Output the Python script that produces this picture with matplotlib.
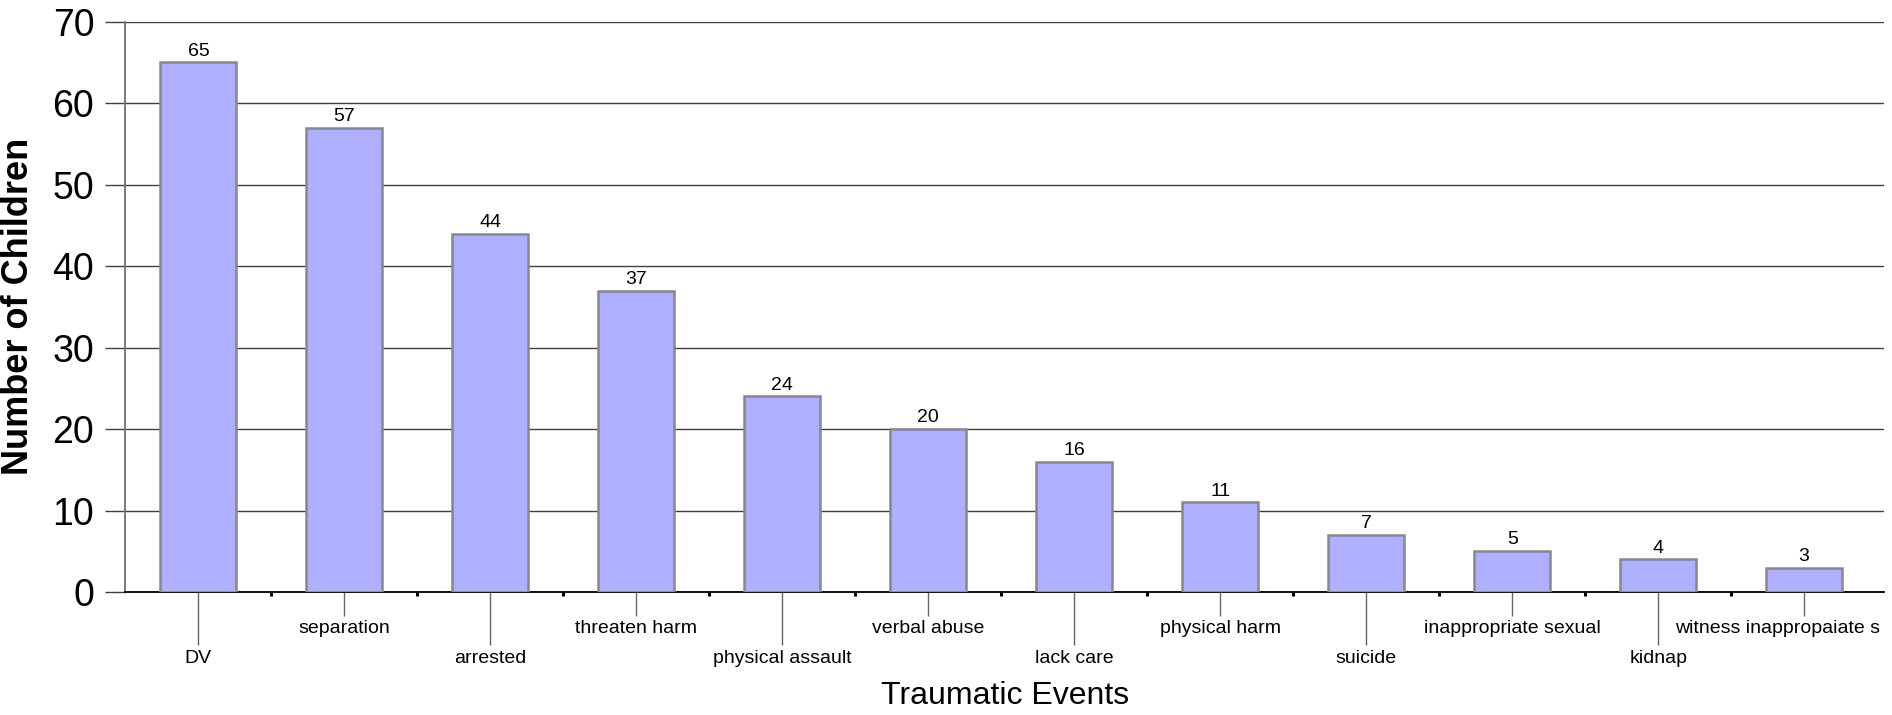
import matplotlib
matplotlib.use("Agg")
import matplotlib.pyplot as plt
import matplotlib.transforms as mtransforms
import numpy as np

# Chart data
events = ["DV", "separation", "arrested", "threaten harm", "physical assault",
          "verbal abuse", "lack care", "physical harm", "suicide",
          "inappropriate sexual", "kidnap", "witness inappropaiate s"]
counts = [65, 57, 44, 37, 24, 20, 16, 11, 7, 5, 4, 3]
y_ticks = [0, 10, 20, 30, 40, 50, 60, 70]

plt.rcParams["font.family"] = ["Liberation Sans", "DejaVu Sans"]

fig = plt.figure(figsize=(18.92, 7.15), dpi=100)
ax = fig.add_axes([0.0663, 0.172, 0.9297, 0.7977])

x = np.arange(len(events))
bars = ax.bar(x, counts, width=0.52, color="#AFAFFF", edgecolor="#888888",
              linewidth=1.8, zorder=3)

# value labels on top of each bar
for xi, c in zip(x, counts):
    ax.text(xi, c + 0.35, str(c), ha="center", va="bottom", fontsize=14,
            color="black", zorder=4)

ax.set_xlim(-0.5, 11.55)
ax.set_ylim(0, 70)
ax.set_yticks(y_ticks)
ax.yaxis.grid(True, color="#404040", linewidth=1.0)
ax.set_axisbelow(True)

# staggered category labels: long ticks for even, short for odd
ax.set_xticks(x[::2])
ax.set_xticklabels(events[::2])
ax.set_xticks(x[1::2], minor=True)
ax.set_xticklabels(events[1::2], minor=True)
ax.tick_params(axis="x", which="major", length=38, width=1.0, color="#666666",
               pad=4, labelsize=14)
ax.tick_params(axis="x", which="minor", length=17, width=1.0, color="#666666",
               pad=3, labelsize=14)
ax.tick_params(axis="y", length=14.4, width=1.0, color="#404040", pad=8,
               labelsize=27)

# last label is pushed left so it stays inside the figure
last = ax.xaxis.get_minor_ticks()[-1].label1
shift = mtransforms.ScaledTranslation(-19 / 72, 0, fig.dpi_scale_trans)
last.set_transform(last.get_transform() + shift)

# small ticks between categories
sec = ax.secondary_xaxis("bottom")
sec.set_xticks(x[:-1] + 0.5)
sec.set_xticklabels([])
sec.tick_params(length=3, width=2.2, color="black")
sec.spines["bottom"].set_visible(False)

for side in ["top", "right"]:
    ax.spines[side].set_visible(False)
ax.spines["left"].set_color("#707070")
ax.spines["left"].set_linewidth(1.3)
ax.spines["bottom"].set_color("black")
ax.spines["bottom"].set_linewidth(1.3)

ax.set_ylabel("Number of Children", fontsize=26, fontweight="bold")
ax.yaxis.set_label_coords(-0.051, 0.5)
ax.set_xlabel("Traumatic Events", fontsize=23, labelpad=10)

fig.savefig("out.png", dpi=100)
